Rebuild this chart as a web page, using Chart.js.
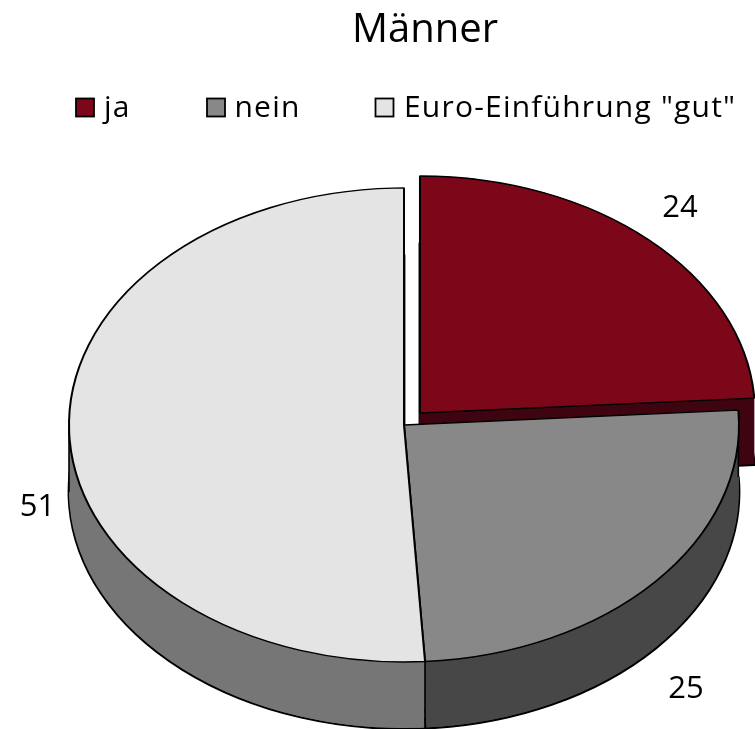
<!DOCTYPE html>
<html><head><meta charset="utf-8">
<style>html,body{margin:0;padding:0;background:#fff}canvas{display:block}</style>
<script src="https://cdn.jsdelivr.net/npm/chart.js@4"></script>
</head><body><canvas id="c" width="755" height="729"></canvas>
<script>
const categories = ['ja', 'nein', 'Euro-Einführung "gut"'];
const values = [24, 25, 51];
const topColors = ['#7b0719', '#888888', '#e4e4e4'];
const wallColors = ['#3f0510', '#474747', '#767676'];
const wallSteps = [1, 10, 10];
const chartTitle = 'Männer';
const FONT = '"Open Sans"';
const TILT = 0.7075, DEPTH = 67, RADIUS = 335, LINE = 2;
const legendBoxX = [76, 207, 375.5];
const legendTextX = [104, 234.5, 404];
const valueLabelPos = [[680, 208], [686, 689], [37.5, 507]];

function tilt(ctx, arc, dy) {
  ctx.translate(0, arc.y + dy);
  ctx.scale(1, TILT);
  ctx.translate(0, -arc.y);
}
function drawCopy(ctx, arc, fill, width) {
  const copy = Object.create(arc);
  copy.options = {
    backgroundColor: fill, borderColor: '#000', borderWidth: width, borderAlign: 'center',
    borderJoinStyle: 'round', borderRadius: 0, offset: arc.options.offset, spacing: 0,
    circular: true, borderDash: [], borderDashOffset: 0, selfJoin: false
  };
  copy.draw(ctx);
}
const pie3d = {
  id: 'pie3d',
  afterLayout(chart) { chart.titleBlock.left += 42; },
  beforeDatasetsDraw(chart) {
    const ctx = chart.ctx, arcs = chart.getDatasetMeta(0).data;
    arcs.forEach((arc, i) => {
      ctx.save(); tilt(ctx, arc, DEPTH); drawCopy(ctx, arc, wallColors[i], LINE * 1.4); ctx.restore();
      for (let d = DEPTH - 1; d >= 0; d -= wallSteps[i]) {
        ctx.save(); tilt(ctx, arc, d); drawCopy(ctx, arc, wallColors[i], 0); ctx.restore();
      }
      ctx.save(); tilt(ctx, arc, 0); drawCopy(ctx, arc, wallColors[i], 0); ctx.restore();
    });
    // vertical edges of the side wall
    const r = arcs[0].outerRadius;
    ctx.save();
    ctx.strokeStyle = '#000'; ctx.lineWidth = LINE * 0.8;
    const vline = (x, y) => { ctx.beginPath(); ctx.moveTo(x, y); ctx.lineTo(x, y + DEPTH); ctx.stroke(); };
    vline(arcs[1].x + r * Math.cos(arcs[1].startAngle), arcs[1].y + TILT * r * Math.sin(arcs[1].startAngle));
    vline(arcs[1].x + r * Math.cos(arcs[1].endAngle), arcs[1].y + TILT * r * Math.sin(arcs[1].endAngle));
    vline(arcs[2].x - r, arcs[2].y);
    ctx.restore();
  },
  beforeDatasetDraw(chart) {
    const ctx = chart.ctx, arc = chart.getDatasetMeta(0).data[0];
    ctx.save(); tilt(ctx, arc, 0);
  },
  afterDatasetDraw(chart) { chart.ctx.restore(); },
  afterDraw(chart) {
    const ctx = chart.ctx;
    ctx.save();
    ctx.textBaseline = 'middle';
    ctx.textAlign = 'left';
    categories.forEach((name, i) => {
      ctx.fillStyle = topColors[i];
      ctx.strokeStyle = '#000'; ctx.lineWidth = 1.8;
      ctx.fillRect(legendBoxX[i], 98.5, 18, 18);
      ctx.strokeRect(legendBoxX[i], 98.5, 18, 18);
      ctx.fillStyle = '#000';
      ctx.font = '30px ' + FONT;
      ctx.letterSpacing = '1.2px';
      ctx.fillText(name, legendTextX[i], 108.5);
    });
    ctx.textAlign = 'center';
    ctx.letterSpacing = '0px';
    ctx.font = '31px ' + FONT;
    values.forEach((v, i) => ctx.fillText(String(v), valueLabelPos[i][0], valueLabelPos[i][1]));
    ctx.restore();
  }
};
new Chart(document.getElementById('c'), {
  type: 'pie',
  data: {
    labels: categories,
    datasets: [{
      data: values,
      backgroundColor: topColors,
      borderColor: '#000',
      borderWidth: LINE,
      offset: [93.2, 0, 0],
      hoverOffset: 0,
      radius: RADIUS
    }]
  },
  options: {
    responsive: false,
    animation: false,
    layout: { padding: { left: 53, right: 0, top: 0, bottom: 0 } },
    plugins: {
      legend: { display: false },
      tooltip: { enabled: false },
      title: {
        display: true,
        text: chartTitle,
        color: '#000',
        font: { family: FONT, size: 40, weight: 'normal', lineHeight: 1.2 },
        padding: { top: 6.5, bottom: 66.5 }
      }
    }
  },
  plugins: [pie3d]
});
</script></body></html>
